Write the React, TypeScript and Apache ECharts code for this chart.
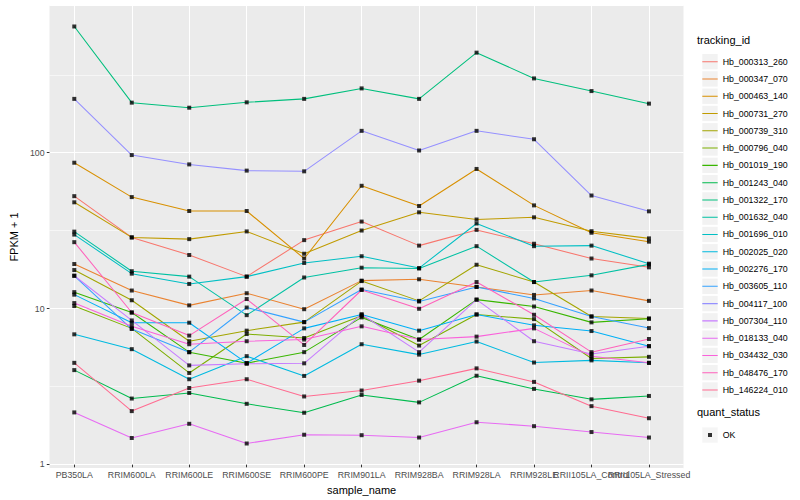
import React, { useEffect, useRef } from 'react';
import * as echarts from 'echarts';

const categories = [
  'PB350LA', 'RRIM600LA', 'RRIM600LE', 'RRIM600SE', 'RRIM600PE', 'RRIM901LA',
  'RRIM928BA', 'RRIM928LA', 'RRIM928LE', 'RRII105LA_Control', 'RRII105LA_Stressed',
];

const trackingIds = [
  'Hb_000313_260', 'Hb_000347_070', 'Hb_000463_140', 'Hb_000731_270', 'Hb_000739_310',
  'Hb_000796_040', 'Hb_001019_190', 'Hb_001243_040', 'Hb_001322_170', 'Hb_001632_040',
  'Hb_001696_010', 'Hb_002025_020', 'Hb_002276_170', 'Hb_003605_110', 'Hb_004117_100',
  'Hb_007304_110', 'Hb_018133_040', 'Hb_034432_030', 'Hb_048476_170', 'Hb_146224_010',
];

const colors = [
  '#F8766D', '#EA8331', '#D89000', '#C09B00', '#A3A500', '#7CAE00', '#39B600', '#00BB4E',
  '#00BF7D', '#00C1A3', '#00BFC4', '#00BAE0', '#00B0F6', '#35A2FF', '#9590FF', '#C77CFF',
  '#E76BF3', '#FA62DB', '#FF62BC', '#FF6C91',
];

// FPKM + 1 per sample (same order as categories)
const fpkm_000313_260 = [51.4, 27.8, 21.4, 15.5, 26.7, 35.2, 24.6, 31.1, 25.3, 20.3, 17.8];
const fpkm_000347_070 = [18.7, 12.6, 10.1, 12.1, 9.54, 14.6, 14.9, 13.3, 11.8, 12.6, 10.8];
const fpkm_000463_140 = [84.6, 50.7, 41.2, 41.2, 20.3, 60.0, 44.4, 77.1, 44.8, 29.8, 26.1];
const fpkm_000731_270 = [46.9, 27.8, 27.1, 30.4, 21.8, 30.8, 40.4, 36.3, 37.5, 30.5, 27.4];
const fpkm_000739_310 = [17.1, 10.9, 5.92, 6.93, 7.87, 14.5, 10.8, 18.5, 14.3, 8.56, 8.31];
const fpkm_000796_040 = [10.0, 7.17, 3.69, 6.59, 6.21, 8.65, 5.55, 8.82, 8.23, 4.58, 4.69];
const fpkm_001019_190 = [12.3, 9.08, 5.03, 4.27, 5.03, 8.44, 6.07, 11.0, 9.93, 7.84, 8.27];
const fpkm_001243_040 = [3.85, 2.52, 2.74, 2.33, 2.04, 2.66, 2.38, 3.54, 2.91, 2.49, 2.62];
const fpkm_001322_170 = [644, 207, 192, 208, 219, 256, 219, 436, 297, 246, 204];
const fpkm_001632_040 = [30.3, 16.8, 15.5, 8.73, 15.3, 17.7, 17.5, 24.4, 14.3, 15.8, 18.6];
const fpkm_001696_010 = [29.0, 16.2, 13.9, 15.5, 19.0, 21.0, 17.6, 34.2, 24.4, 24.6, 18.8];
const fpkm_002025_020 = [6.56, 5.26, 3.36, 4.74, 3.53, 5.66, 4.85, 5.89, 4.31, 4.45, 4.29];
const fpkm_002276_170 = [11.85, 7.8, 7.8, 4.27, 7.17, 8.82, 6.93, 8.82, 7.5, 6.89, 5.5];
const fpkm_003605_110 = [15.7, 7.1, 5.03, 9.78, 7.87, 12.8, 10.7, 13.3, 11.2, 8.56, 7.2];
const fpkm_004117_100 = [219, 94.8, 82.5, 75.2, 74.4, 136, 101.5, 136, 120, 51.9, 41.0];
const fpkm_007304_110 = [15.7, 8.07, 4.13, 4.23, 4.26, 8.82, 5.03, 11.0, 5.92, 4.9, 5.5];
const fpkm_018133_040 = [2.05, 1.4, 1.73, 1.29, 1.47, 1.46, 1.41, 1.77, 1.67, 1.53, 1.41];
const fpkm_034432_030 = [10.45, 7.39, 5.66, 5.92, 6.07, 7.39, 6.07, 6.34, 7.17, 4.74, 4.29];
const fpkm_048476_170 = [25.9, 9.08, 6.44, 11.1, 5.6, 12.7, 9.6, 14.3, 8.78, 5.03, 6.12];
const fpkm_146224_010 = [4.29, 2.09, 2.95, 3.36, 2.6, 2.84, 3.29, 3.95, 3.23, 2.25, 1.88];

const seriesValues = [
  fpkm_000313_260, fpkm_000347_070, fpkm_000463_140, fpkm_000731_270, fpkm_000739_310,
  fpkm_000796_040, fpkm_001019_190, fpkm_001243_040, fpkm_001322_170, fpkm_001632_040,
  fpkm_001696_010, fpkm_002025_020, fpkm_002276_170, fpkm_003605_110, fpkm_004117_100,
  fpkm_007304_110, fpkm_018133_040, fpkm_034432_030, fpkm_048476_170, fpkm_146224_010,
];

const quantStatus = ['OK'];
const yMin = 0.942;
const yMax = 879;
const minorBreaks = [3.1623, 31.623, 316.23];

export default function App() {
  const ref = useRef<HTMLDivElement>(null);

  useEffect(() => {
    if (!ref.current) return;
    const chart = echarts.init(ref.current, null, { renderer: 'svg' });
    const font = '"Liberation Sans", Arial, Helvetica, sans-serif';

    const lineSeries = trackingIds.map((id, i) => ({
      name: id,
      type: 'line',
      xAxisIndex: 1,
      yAxisIndex: 1,
      data: seriesValues[i],
      symbol: 'none',
      showSymbol: false,
      color: colors[i],
      lineStyle: { width: 1.05, color: colors[i] },
      silent: true,
      z: 3,
    }));

    const points: [number, number][] = [];
    seriesValues.forEach((vals) => vals.forEach((v, j) => points.push([j, v])));

    const textBase = { fontFamily: font };

    // legend key icons (bounding box = itemWidth x itemHeight so no rescaling)
    const lineKeyIcon = 'path://M0,0h0.01v0.01h-0.01z M0,8.11h15.4v1.05h-15.4z M15.39,17.27h0.01v0.01h-0.01z';
    const pointKeyIcon = 'path://M0,0h0.01v0.01h-0.01z M5.7,6.64h4v4h-4z M15.39,17.27h0.01v0.01h-0.01z';

    const option = {
      animation: false,
      backgroundColor: '#FFFFFF',
      grid: [
        { left: 39.8, right: 116.5, top: 5.6, bottom: 31.6, show: true, backgroundColor: '#EBEBEB', borderWidth: 0 },
        { left: 45.56, right: 122.3, top: 5.6, bottom: 31.6, show: false },
      ],
      xAxis: [
        { type: 'value', gridIndex: 0, min: 0, max: 1, show: false },
        {
          type: 'category',
          gridIndex: 1,
          data: categories,
          boundaryGap: true,
          axisLine: { show: false },
          axisTick: { show: true, alignWithLabel: true, interval: 0, length: 2.7, lineStyle: { color: '#333333', width: 1.05 } },
          axisLabel: { interval: 0, hideOverlap: false, fontSize: 8.8, color: '#4D4D4D', margin: 5.5, ...textBase },
          splitLine: { show: true, alignWithLabel: true, interval: 0, lineStyle: { color: '#FFFFFF', width: 1.05 } },
          name: 'sample_name',
          nameLocation: 'middle',
          nameGap: 14,
          nameTextStyle: { fontSize: 11, color: '#000000', ...textBase },
        },
      ],
      yAxis: [
        {
          type: 'log',
          logBase: 10,
          gridIndex: 0,
          min: yMin,
          max: yMax,
          axisLine: { show: false },
          axisTick: { show: true, length: 2.7, lineStyle: { color: '#333333', width: 1.05 } },
          axisLabel: { fontSize: 8.8, color: '#4D4D4D', margin: 4.9, showMinLabel: false, showMaxLabel: false, ...textBase },
          splitLine: { show: true, lineStyle: { color: '#FFFFFF', width: 1.05 } },
          name: 'FPKM + 1',
          nameLocation: 'middle',
          nameGap: 23,
          nameRotate: 90,
          nameTextStyle: { fontSize: 11, color: '#000000', ...textBase },
        },
        { type: 'log', logBase: 10, gridIndex: 1, min: yMin, max: yMax, show: false },
      ],
      legend: [
        {
          orient: 'vertical', left: 697.3, top: 49, itemWidth: 15.4, itemHeight: 15.3, itemGap: 1.98,
          icon: 'rect', selectedMode: false, data: trackingIds,
          itemStyle: { color: '#F2F2F2', borderWidth: 0 },
          formatter: () => '', textStyle: { fontSize: 1 }, z: 3,
        },
        {
          orient: 'vertical', left: 697.3, top: 48.06, itemWidth: 15.4, itemHeight: 17.28, itemGap: 0,
          icon: lineKeyIcon, selectedMode: false, data: trackingIds,
          itemStyle: { borderWidth: 0 },
          textStyle: { fontSize: 8.8, color: '#000000', ...textBase },
          z: 5,
        },
        {
          orient: 'vertical', left: 697.3, top: 422.4, itemWidth: 15.4, itemHeight: 15.3,
          icon: 'rect', selectedMode: false, data: quantStatus,
          itemStyle: { color: '#F2F2F2', borderWidth: 0 },
          formatter: () => '', textStyle: { fontSize: 1 }, z: 3,
        },
        {
          orient: 'vertical', left: 697.3, top: 421.4, itemWidth: 15.4, itemHeight: 17.28,
          icon: pointKeyIcon, selectedMode: false, data: quantStatus,
          itemStyle: { color: '#000000', borderWidth: 0 },
          textStyle: { fontSize: 8.8, color: '#000000', ...textBase },
          z: 5,
        },
      ],
      graphic: [
        { type: 'text', left: 697, top: 34, style: { text: 'tracking_id', fontSize: 11, fill: '#000000', fontFamily: font } },
        { type: 'text', left: 697, top: 406.5, style: { text: 'quant_status', fontSize: 11, fill: '#000000', fontFamily: font } },
      ],
      series: [
        {
          name: 'minor-grid',
          type: 'line',
          xAxisIndex: 0,
          yAxisIndex: 0,
          data: [],
          silent: true,
          markLine: {
            silent: true,
            symbol: ['none', 'none'],
            label: { show: false },
            lineStyle: { color: '#FFFFFF', width: 0.55, type: 'solid' },
            emphasis: { disabled: true },
            data: minorBreaks.map((v) => ({ yAxis: v })),
            z: 1,
          },
        },
        ...lineSeries,
        {
          name: 'OK',
          type: 'scatter',
          xAxisIndex: 1,
          yAxisIndex: 1,
          data: points,
          symbol: 'rect',
          symbolSize: 4,
          itemStyle: { color: '#000000' },
          silent: true,
          z: 6,
        },
      ],
    };

    chart.setOption(option as any);
    return () => chart.dispose();
  }, []);

  return <div ref={ref} style={{ position: 'fixed', left: 0, top: 0, width: 800, height: 500 }} />;
}
